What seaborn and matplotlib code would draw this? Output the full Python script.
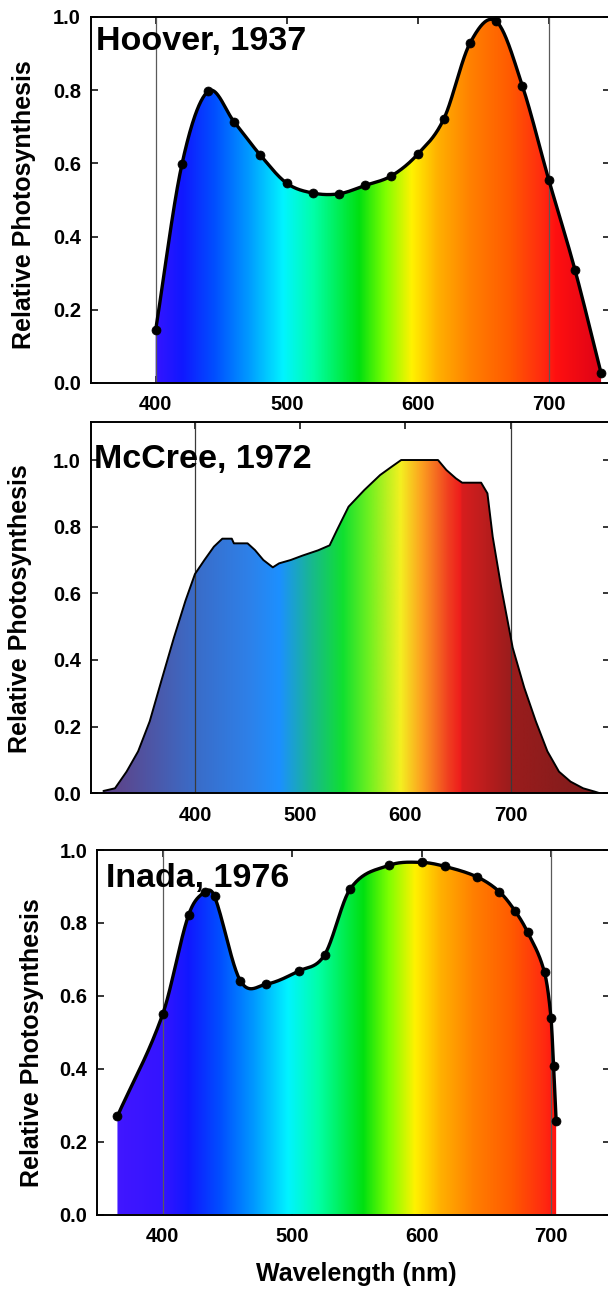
import numpy as np
import matplotlib
matplotlib.use("Agg")
import matplotlib.pyplot as plt
import seaborn as sns
from matplotlib.colors import LinearSegmentedColormap
from matplotlib.patches import Polygon

# ---------------- data ----------------
hoover_wl = [400, 420, 440, 460, 480, 500, 520, 540, 560, 580, 600, 620, 640, 660, 680, 700, 720, 740]
hoover_val = [0.145, 0.597, 0.797, 0.713, 0.622, 0.546, 0.519, 0.517, 0.540, 0.566, 0.625, 0.722,
              0.929, 0.988, 0.811, 0.556, 0.310, 0.027]

mccree_wl = [313, 324, 335, 346, 357, 368, 380, 391, 400, 409, 418, 426, 435, 437, 450, 457, 465,
             474, 480, 491, 502, 517, 528, 535, 546, 561, 576, 587, 596, 631, 639, 648, 654, 672,
             678, 683, 691, 702, 713, 724, 735, 746, 757, 769, 780, 785]
mccree_val = [0.007, 0.015, 0.065, 0.126, 0.216, 0.337, 0.467, 0.578, 0.658, 0.700, 0.740, 0.764,
              0.764, 0.750, 0.750, 0.730, 0.700, 0.678, 0.690, 0.700, 0.713, 0.729, 0.744, 0.790,
              0.860, 0.910, 0.955, 0.980, 1.000, 1.000, 0.970, 0.945, 0.932, 0.932, 0.900, 0.770,
              0.620, 0.437, 0.317, 0.216, 0.126, 0.065, 0.035, 0.015, 0.005, 0.0]

inada_wl = [365, 400, 420, 433, 440, 460, 480, 505, 525, 545, 575, 600, 618, 643, 660, 672, 682,
            695, 700, 702, 704]
inada_val = [0.270, 0.550, 0.822, 0.886, 0.873, 0.641, 0.632, 0.668, 0.712, 0.894, 0.958, 0.966,
             0.955, 0.926, 0.886, 0.834, 0.774, 0.664, 0.540, 0.407, 0.256]

titles = ["Hoover, 1937", "McCree, 1972", "Inada, 1976"]
x_ticks = [400, 500, 600, 700]
y_ticks = [0.0, 0.2, 0.4, 0.6, 0.8, 1.0]
y_label = "Relative Photosynthesis"
x_label = "Wavelength (nm)"
ref_lines = [400, 700]

# spectrum colour stops (wavelength, colour)
spec_wl = [340, 400, 420, 445, 470, 497, 520, 555, 575, 595, 615, 640, 670, 695, 705, 745, 760]
spec_col = ["#4a18ff", "#3414ff", "#1018ff", "#0050ff", "#0098ff", "#00f4ff", "#00ffa8",
            "#00e010", "#80ff00", "#fff200", "#ffb000", "#ff8000", "#ff5a00", "#ff2a10",
            "#ff1010", "#d80018", "#d00018"]
mcc_wl = [300, 330, 400, 450, 480, 510, 540, 565, 595, 615, 640, 652, 653, 700, 790, 800]
mcc_col = ["#5a3f8a", "#5a4890", "#3a6cc8", "#2e80e8", "#1c90ff", "#18b890", "#10e030",
           "#70f020", "#f4f020", "#fca020", "#f04020", "#ee1c1c", "#d81e1e", "#9a1c1c",
           "#7a1c1c", "#7a1c1c"]


# ---------------- helpers ----------------
def hermite_smooth(x, y, n=40):
    x = np.asarray(x, float)
    y = np.asarray(y, float)
    m = np.empty_like(y)
    m[1:-1] = (y[2:] - y[:-2]) / (x[2:] - x[:-2])
    m[0] = (y[1] - y[0]) / (x[1] - x[0])
    m[-1] = (y[-1] - y[-2]) / (x[-1] - x[-2])
    xs, ys = [], []
    t = np.linspace(0, 1, n, endpoint=False)
    h00 = 2 * t**3 - 3 * t**2 + 1
    h10 = t**3 - 2 * t**2 + t
    h01 = -2 * t**3 + 3 * t**2
    h11 = t**3 - t**2
    for i in range(len(x) - 1):
        h = x[i + 1] - x[i]
        xs.append(x[i] + t * h)
        ys.append(h00 * y[i] + h10 * h * m[i] + h01 * y[i + 1] + h11 * h * m[i + 1])
    xs.append([x[-1]])
    ys.append([y[-1]])
    return np.concatenate(xs), np.concatenate(ys)


def gradient_fill(ax, xs, ys, stops_wl, stops_col, ymax):
    lo, hi = stops_wl[0], stops_wl[-1]
    pos = [(w - lo) / (hi - lo) for w in stops_wl]
    cmap = LinearSegmentedColormap.from_list("spec", list(zip(pos, stops_col)), N=1024)
    grad = cmap(np.linspace(0, 1, 1200))[np.newaxis, :, :]
    im = ax.imshow(grad, extent=[lo, hi, 0, ymax], aspect="auto", origin="lower",
                   interpolation="bilinear", zorder=1)
    verts = np.column_stack([np.r_[xs[0], xs, xs[-1]], np.r_[0, ys, 0]])
    poly = Polygon(verts, closed=True, transform=ax.transData, facecolor="none",
                   edgecolor="none")
    ax.add_patch(poly)
    im.set_clip_path(poly)


# ---------------- style ----------------
sns.set_theme(style="ticks")
plt.rcParams["font.family"] = ["Liberation Sans", "DejaVu Sans"]
plt.rcParams["font.weight"] = "bold"
plt.rcParams["axes.labelweight"] = "bold"
plt.rcParams["text.color"] = "black"
plt.rcParams["axes.labelcolor"] = "black"
plt.rcParams["xtick.color"] = "black"
plt.rcParams["ytick.color"] = "black"
plt.rcParams["axes.edgecolor"] = "black"

W, H = 608, 1290
fig = plt.figure(figsize=(W / 100, H / 100), dpi=100)
fig.patch.set_facecolor("white")

# layout in pixels: left, top, bottom ; right spine just outside the canvas
layout = [(90.7, 17.0, 383.0), (90.7, 421.7, 793.3), (97.0, 850.0, 1214.5)]
xlims = [(350.4, 746.8), (300.9, 794.5), (349.2, 745.6)]
ymaxs = [1.0, 1.115, 1.0]
ylabel_x = [-0.105, -0.113, -0.103]
ylabel_y = [0.488, 0.497, 0.471]
title_pos = [(0.0096, 0.910), (0.0058, 0.875), (0.0166, 0.898)]

datasets = [(hoover_wl, hoover_val, "smooth"), (mccree_wl, mccree_val, "plain"),
            (inada_wl, inada_val, "smooth")]

for i, (wl, val, kind) in enumerate(datasets):
    l, t, b = layout[i]
    r = 610.0
    ax = fig.add_axes([l / W, (H - b) / H, (r - l) / W, (b - t) / H])
    ax.set_facecolor("white")

    if kind == "smooth":
        xs, ys = hermite_smooth(wl, val)
        stops_wl, stops_col = spec_wl, spec_col
    else:
        xs, ys = np.asarray(wl, float), np.asarray(val, float)
        stops_wl, stops_col = mcc_wl, mcc_col

    gradient_fill(ax, xs, ys, stops_wl, stops_col, ymaxs[i])

    for v in ref_lines:
        ax.axvline(v, color="#3a3a3a" if kind == "plain" else "#5a5a5a",
                   lw=0.9, zorder=2)

    if kind == "smooth":
        sns.lineplot(x=xs, y=ys, ax=ax, color="black", lw=2.4, sort=False,
                     estimator=None, zorder=4)
        sns.scatterplot(x=wl, y=val, ax=ax, color="black", s=42, edgecolor="black",
                        linewidth=0.5, zorder=5, clip_on=False)
    else:
        sns.lineplot(x=xs, y=ys, ax=ax, color="black", lw=1.4, sort=False,
                     estimator=None, zorder=4)

    ax.set_xlim(*xlims[i])
    ax.set_ylim(0, ymaxs[i])
    ax.set_xticks(x_ticks)
    ax.set_yticks(y_ticks)
    ax.set_xticklabels([str(v) for v in x_ticks])
    ax.set_yticklabels([f"{v:.1f}" for v in y_ticks])
    ax.tick_params(direction="in", length=5, width=1.1, top=True, right=True,
                   labelsize=14.5, colors="black")
    ax.tick_params(axis="x", pad=9)
    ax.tick_params(axis="y", pad=7)
    for s in ax.spines.values():
        s.set_linewidth(1.4)
        s.set_color("black")

    ax.set_ylabel(y_label, fontsize=18, fontweight="bold", color="black")
    ax.yaxis.set_label_coords(ylabel_x[i], ylabel_y[i])
    if i == 2:
        ax.set_xlabel(x_label, fontsize=18, fontweight="bold", color="black")
        ax.xaxis.set_label_coords(0.506, -0.1295)
    else:
        ax.set_xlabel("")

    ax.text(title_pos[i][0], title_pos[i][1], titles[i], transform=ax.transAxes,
            fontsize=24.5, fontweight="bold", ha="left", va="baseline", zorder=6,
            color="black")

fig.savefig("out.png", dpi=100, facecolor="white")
